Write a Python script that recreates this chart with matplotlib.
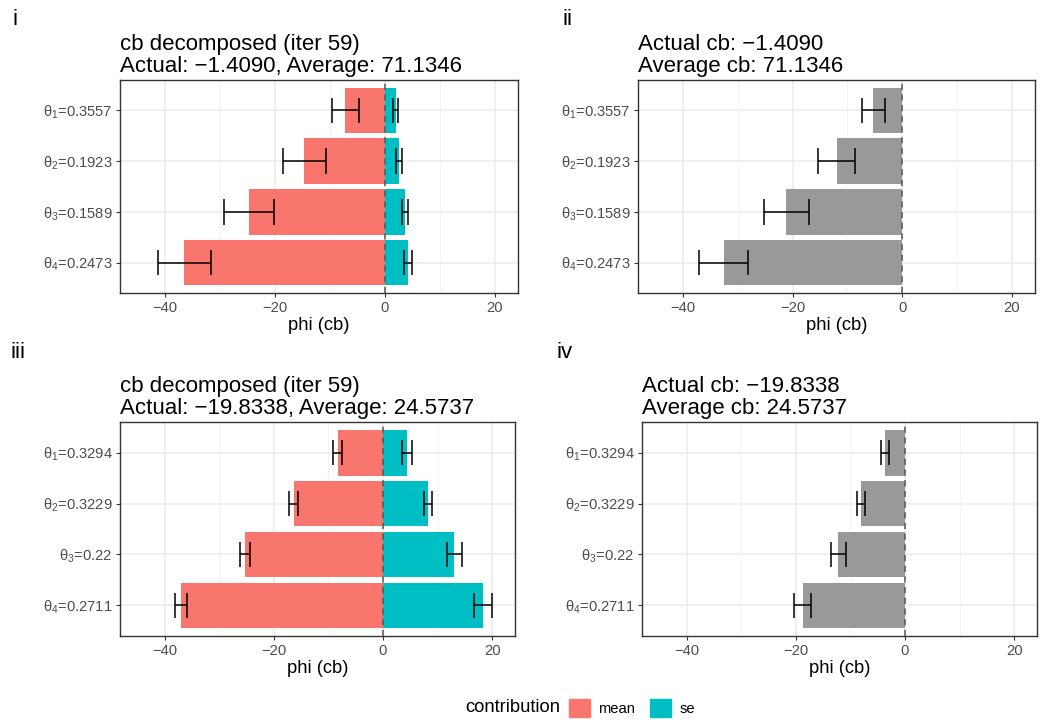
import numpy as np
import matplotlib
matplotlib.use("Agg")
import matplotlib.pyplot as plt
from matplotlib.patches import Patch

plt.rcParams['font.family'] = ['Liberation Sans', 'DejaVu Sans']
plt.rcParams['mathtext.fontset'] = 'custom'
plt.rcParams['mathtext.rm'] = 'Liberation Sans'
plt.rcParams['mathtext.default'] = 'regular'

# iteration 59, first run
labels_a = ["θ$_1$=0.3557", "θ$_2$=0.1923", "θ$_3$=0.1589", "θ$_4$=0.2473"]
mean_a = [-7.2, -14.7, -24.7, -36.5]
mean_err_a = [2.4, 3.9, 4.5, 4.8]
se_a = [2.0, 2.55, 3.6, 4.2]
se_err_a = [0.45, 0.6, 0.5, 0.65]
total_a = [-5.3, -12.0, -21.15, -32.6]
total_err_a = [2.1, 3.4, 4.1, 4.4]
title_a = "cb decomposed (iter 59)\nActual: \u22121.4090, Average: 71.1346"
title_a2 = "Actual cb: \u22121.4090\nAverage cb: 71.1346"

# iteration 59, second run
labels_b = ["θ$_1$=0.3294", "θ$_2$=0.3229", "θ$_3$=0.22", "θ$_4$=0.2711"]
mean_b = [-8.3, -16.35, -25.35, -37.1]
mean_err_b = [0.8, 0.8, 0.9, 1.1]
se_b = [4.4, 8.25, 13.05, 18.35]
se_err_b = [0.85, 0.8, 1.4, 1.7]
total_b = [-3.65, -8.05, -12.2, -18.7]
total_err_b = [0.8, 0.75, 1.3, 1.55]
title_b = "cb decomposed (iter 59)\nActual: \u221219.8338, Average: 24.5737"
title_b2 = "Actual cb: \u221219.8338\nAverage cb: 24.5737"

RED = "#F8766D"
CYAN = "#00BFC4"
GREY = "#999999"


def style(ax, labels, title):
    n = len(labels)
    ax.set_xlim(-48.2, 24.2)
    ax.set_ylim(n - 0.4, -0.6)
    ax.set_yticks(range(n))
    ax.set_yticklabels(labels)
    ax.set_xticks([-40, -20, 0, 20])
    ax.set_xticks([-30, -10, 10], minor=True)
    ax.grid(True, which='major', color='#EBEBEB', lw=1.1, zorder=0)
    ax.grid(True, which='minor', axis='x', color='#F2F2F2', lw=0.6, zorder=0)
    ax.set_axisbelow(True)
    ax.tick_params(axis='both', which='major', labelsize=10.6, labelcolor='#4D4D4D',
                   color='#333333', length=3, width=0.8, pad=2.5)
    ax.tick_params(axis='x', which='minor', length=0)
    for s in ax.spines.values():
        s.set_color('#333333')
        s.set_linewidth(1.0)
    ax.axvline(0, color='#555555', ls=(0, (4, 3)), lw=1.1, zorder=3)
    ax.set_xlabel("phi (cb)", fontsize=13.2, labelpad=2)
    ax.set_title(title, loc='left', fontsize=16, pad=6, linespacing=1.05)


def err(ax, x, e, y):
    x = np.array(x)
    e = np.array(e)
    ax.hlines(y, x - e, x + e, color='black', lw=1.1, zorder=4)
    ax.vlines(x - e, y - 0.25, y + 0.25, color='black', lw=1.1, zorder=4)
    ax.vlines(x + e, y - 0.25, y + 0.25, color='black', lw=1.1, zorder=4)


def decomposed(ax, labels, mean, mean_err, se, se_err, title):
    y = np.arange(len(labels))
    ax.barh(y, mean, height=0.9, color=RED, zorder=2)
    ax.barh(y, se, height=0.9, color=CYAN, zorder=2)
    err(ax, mean, mean_err, y)
    err(ax, se, se_err, y)
    style(ax, labels, title)


def total(ax, labels, vals, vals_err, title):
    y = np.arange(len(labels))
    ax.barh(y, vals, height=0.9, color=GREY, zorder=2)
    err(ax, vals, vals_err, y)
    style(ax, labels, title)


fig = plt.figure(figsize=(10.43, 7.22), dpi=100)
W, H = 1043, 722

def axes_px(l, t, r, b):
    return fig.add_axes([l / W, 1 - b / H, (r - l) / W, (b - t) / H])

ax1 = axes_px(120, 80, 518, 293)
ax2 = axes_px(638, 80, 1035, 293)
ax3 = axes_px(120, 422, 515, 636)
ax4 = axes_px(642, 422, 1037, 636)

decomposed(ax1, labels_a, mean_a, mean_err_a, se_a, se_err_a, title_a)
total(ax2, labels_a, total_a, total_err_a, title_a2)
decomposed(ax3, labels_b, mean_b, mean_err_b, se_b, se_err_b, title_b)
total(ax4, labels_b, total_b, total_err_b, title_b2)

for txt, x, y in [("i", 13, 25), ("ii", 562, 25), ("iii", 10, 358), ("iv", 557, 358)]:
    fig.text(x / W, 1 - y / H, txt, fontsize=16, ha='left', va='baseline')

fig.text(560 / W, 1 - 708 / H, "contribution", fontsize=13.2, ha='right', va='center')
handles = [Patch(color=RED, label="mean"), Patch(color=CYAN, label="se")]
fig.legend(handles=handles, ncol=2, loc='center left', bbox_to_anchor=(569 / W, 1 - 708 / H),
           frameon=False, fontsize=10.6, handlelength=1.4, handleheight=1.4,
           handletextpad=0.6, columnspacing=1.0, borderpad=0, borderaxespad=0)

fig.savefig("out.png", dpi=100)
